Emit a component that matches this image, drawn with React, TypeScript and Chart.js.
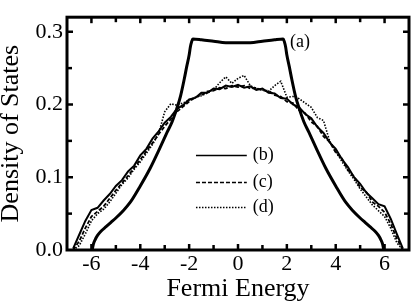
import React, { useEffect, useRef } from "react";
import { Chart, registerables } from "chart.js";

Chart.register(...registerables);

// ---- data ----
const X_TICKS = [-6, -4, -2, 0, 2, 4, 6];
const Y_TICKS = [0, 0.1, 0.2, 0.3];
const X_MINOR = [-6, -5, -4, -3, -2, -1, 0, 1, 2, 3, 4, 5, 6];
const Y_MINOR = [0.05, 0.1, 0.15, 0.2, 0.25, 0.3];

const ENERGY_A = [
  -5.97, -5.92, -5.85, -5.75, -5.6, -5.4, -5.2, -5.0, -4.7, -4.4, -4.0, -3.6, -3.2, -2.9, -2.7,
  -2.5, -2.35, -2.2, -2.1, -2.0, -1.95, -1.9, -1.85, -1.5, -1.0, -0.5, 0, 0.5, 1.0, 1.5, 1.85,
  1.9, 1.95, 2.0, 2.1, 2.2, 2.35, 2.5, 2.7, 2.9, 3.2, 3.6, 4.0, 4.4, 4.7, 5.0, 5.2, 5.4, 5.6,
  5.75, 5.85, 5.92, 5.97,
];
const DOS_A = [
  0, 0.008, 0.014, 0.02, 0.026, 0.032, 0.038, 0.044, 0.054, 0.066, 0.088, 0.112, 0.14, 0.162,
  0.176, 0.195, 0.212, 0.235, 0.252, 0.268, 0.279, 0.286, 0.29, 0.289, 0.287, 0.285, 0.285,
  0.285, 0.287, 0.289, 0.29, 0.286, 0.279, 0.268, 0.252, 0.235, 0.212, 0.195, 0.176, 0.162,
  0.14, 0.112, 0.088, 0.066, 0.054, 0.044, 0.038, 0.032, 0.026, 0.02, 0.014, 0.008, 0,
];

const ENERGY = [
  -6.75, -6.5, -6.25, -6.0, -5.75, -5.5, -5.25, -5.0, -4.75, -4.5, -4.25, -4.0, -3.75, -3.5,
  -3.25, -3.0, -2.75, -2.5, -2.25, -2.0, -1.75, -1.5, -1.25, -1.0, -0.75, -0.5, -0.25, 0, 0.25,
  0.5, 0.75, 1.0, 1.25, 1.5, 1.75, 2.0, 2.25, 2.5, 2.75, 3.0, 3.25, 3.5, 3.75, 4.0, 4.25, 4.5,
  4.75, 5.0, 5.25, 5.5, 5.75, 6.0, 6.25, 6.5, 6.75,
];
const DOS_B = [
  0.002, 0.021, 0.04, 0.055, 0.058, 0.068, 0.077, 0.088, 0.096, 0.108, 0.116, 0.13, 0.139,
  0.153, 0.163, 0.175, 0.183, 0.194, 0.199, 0.207, 0.209, 0.216, 0.216, 0.222, 0.221, 0.226,
  0.224, 0.227, 0.223, 0.225, 0.22, 0.222, 0.216, 0.215, 0.209, 0.208, 0.2, 0.196, 0.187,
  0.181, 0.169, 0.161, 0.148, 0.139, 0.125, 0.114, 0.1, 0.091, 0.079, 0.071, 0.063, 0.06,
  0.043, 0.022, 0.002,
];
const DOS_C = [
  0.0, 0.012, 0.03, 0.046, 0.053, 0.06, 0.071, 0.082, 0.092, 0.102, 0.113, 0.124, 0.136, 0.147,
  0.159, 0.17, 0.18, 0.19, 0.197, 0.204, 0.21, 0.213, 0.218, 0.219, 0.223, 0.222, 0.226, 0.224,
  0.226, 0.222, 0.223, 0.219, 0.219, 0.213, 0.211, 0.204, 0.202, 0.192, 0.188, 0.176, 0.17,
  0.156, 0.149, 0.134, 0.126, 0.11, 0.101, 0.086, 0.08, 0.066, 0.06, 0.052, 0.036, 0.016, 0.0,
];
const DOS_D = [
  0.0, 0.006, 0.022, 0.04, 0.05, 0.056, 0.066, 0.078, 0.09, 0.099, 0.111, 0.121, 0.133, 0.145,
  0.16, 0.19, 0.201, 0.199, 0.202, 0.206, 0.21, 0.212, 0.216, 0.22, 0.23, 0.238, 0.229, 0.236,
  0.24, 0.226, 0.222, 0.22, 0.218, 0.226, 0.232, 0.21, 0.211, 0.208, 0.202, 0.196, 0.182,
  0.178, 0.15, 0.135, 0.122, 0.109, 0.097, 0.084, 0.073, 0.062, 0.054, 0.046, 0.03, 0.01, 0.0,
];

const LABELS = ["(a)", "(b)", "(c)", "(d)"];
const LEGEND_Y = [0.13, 0.094, 0.059];

const SERIF = "'Liberation Serif', 'Times New Roman', serif";

function pts(xs: number[], ys: number[]) {
  return xs.map((x, i) => ({ x, y: ys[i] }));
}

const framePlugin = {
  id: "frame",
  afterDatasetsDraw(chart: any) {
    const { ctx, chartArea, scales } = chart;
    const { left, right, top, bottom } = chartArea;
    const x = scales.x;
    const y = scales.y;
    ctx.save();
    ctx.strokeStyle = "#000";
    ctx.lineCap = "butt";
    ctx.lineWidth = 3;
    ctx.strokeRect(left, top, right - left, bottom - top);
    ctx.lineWidth = 2.5;
    const seg = (x1: number, y1: number, x2: number, y2: number) => {
      ctx.beginPath();
      ctx.moveTo(x1, y1);
      ctx.lineTo(x2, y2);
      ctx.stroke();
    };
    X_MINOR.forEach((v) => {
      const px = x.getPixelForValue(v);
      const len = X_TICKS.includes(v) ? 6 : 5;
      seg(px, bottom, px, bottom - len);
      seg(px, top, px, top + len);
    });
    Y_MINOR.forEach((v) => {
      const py = y.getPixelForValue(v);
      const len = Math.abs((v * 10) % 1) < 1e-6 || Math.abs((v * 10) % 1 - 1) < 1e-6 ? 6 : 5;
      seg(left, py, left + len, py);
      seg(right, py, right - len, py);
    });

    // legend
    const dashes = [[], [4, 2], [1.5, 1.5]];
    const lx1 = x.getPixelForValue(-1.72);
    const lx2 = x.getPixelForValue(0.36);
    const tx = x.getPixelForValue(0.6);
    ctx.font = `18px ${SERIF}`;
    ctx.fillStyle = "#000";
    ctx.textBaseline = "middle";
    ctx.textAlign = "left";
    LEGEND_Y.forEach((v, i) => {
      const py = Math.round(y.getPixelForValue(v)) + 0.5;
      ctx.setLineDash(dashes[i]);
      ctx.lineWidth = 1.5;
      seg(lx1, py, lx2, py);
      ctx.setLineDash([]);
      ctx.fillText(LABELS[i + 1], tx, py);
    });
    ctx.fillText(LABELS[0], x.getPixelForValue(2.13), y.getPixelForValue(0.2857));
    ctx.restore();
  },
};

export default function App() {
  const ref = useRef<HTMLCanvasElement>(null);
  useEffect(() => {
    if (!ref.current) return;
    const chart = new Chart(ref.current, {
      type: "line",
      data: {
        datasets: [
          {
            label: LABELS[0],
            data: pts(ENERGY_A, DOS_A),
            borderColor: "#000",
            borderWidth: 3,
            pointRadius: 0,
            cubicInterpolationMode: "monotone",
          },
          {
            label: LABELS[1],
            data: pts(ENERGY, DOS_B),
            borderColor: "#000",
            borderWidth: 2,
            pointRadius: 0,
          },
          {
            label: LABELS[2],
            data: pts(ENERGY, DOS_C),
            borderColor: "#000",
            borderWidth: 1.8,
            borderDash: [4, 2],
            pointRadius: 0,
          },
          {
            label: LABELS[3],
            data: pts(ENERGY, DOS_D),
            borderColor: "#000",
            borderWidth: 1.6,
            borderDash: [1.5, 1.5],
            pointRadius: 0,
          },
        ],
      },
      options: {
        responsive: false,
        animation: false,
        layout: { padding: { top: 2, right: 2, left: 0, bottom: 0 } },
        plugins: { legend: { display: false }, tooltip: { enabled: false } },
        scales: {
          x: {
            type: "linear",
            min: -7,
            max: 7,
            afterBuildTicks: (s: any) => {
              s.ticks = X_TICKS.map((v) => ({ value: v }));
            },
            afterFit: (s: any) => {
              s.height = 55;
            },
            grid: { display: false, drawTicks: false },
            border: { display: false },
            ticks: {
              color: "#000",
              font: { family: SERIF, size: 22 },
              padding: 1,
              maxRotation: 0,
              autoSkip: false,
            },
            title: {
              display: true,
              text: "Fermi Energy",
              color: "#000",
              font: { family: SERIF, size: 26 },
              padding: { top: 0, bottom: 0 },
            },
          },
          y: {
            min: 0,
            max: 0.32,
            afterBuildTicks: (s: any) => {
              s.ticks = Y_TICKS.map((v) => ({ value: v }));
            },
            afterFit: (s: any) => {
              s.width = 67;
            },
            grid: { display: false, drawTicks: false },
            border: { display: false },
            ticks: {
              color: "#000",
              font: { family: SERIF, size: 22 },
              padding: 4,
              callback: (v: any) => Number(v).toFixed(1),
            },
            title: {
              display: true,
              text: "Density of States",
              color: "#000",
              font: { family: SERIF, size: 26 },
              padding: { top: -4, bottom: 0 },
            },
          },
        },
      },
      plugins: [framePlugin],
    });
    return () => chart.destroy();
  }, []);
  return (
    <div style={{ position: "absolute", left: 0, top: 0, width: 411, height: 305, background: "#fff" }}>
      <canvas ref={ref} width={411} height={305} />
    </div>
  );
}
